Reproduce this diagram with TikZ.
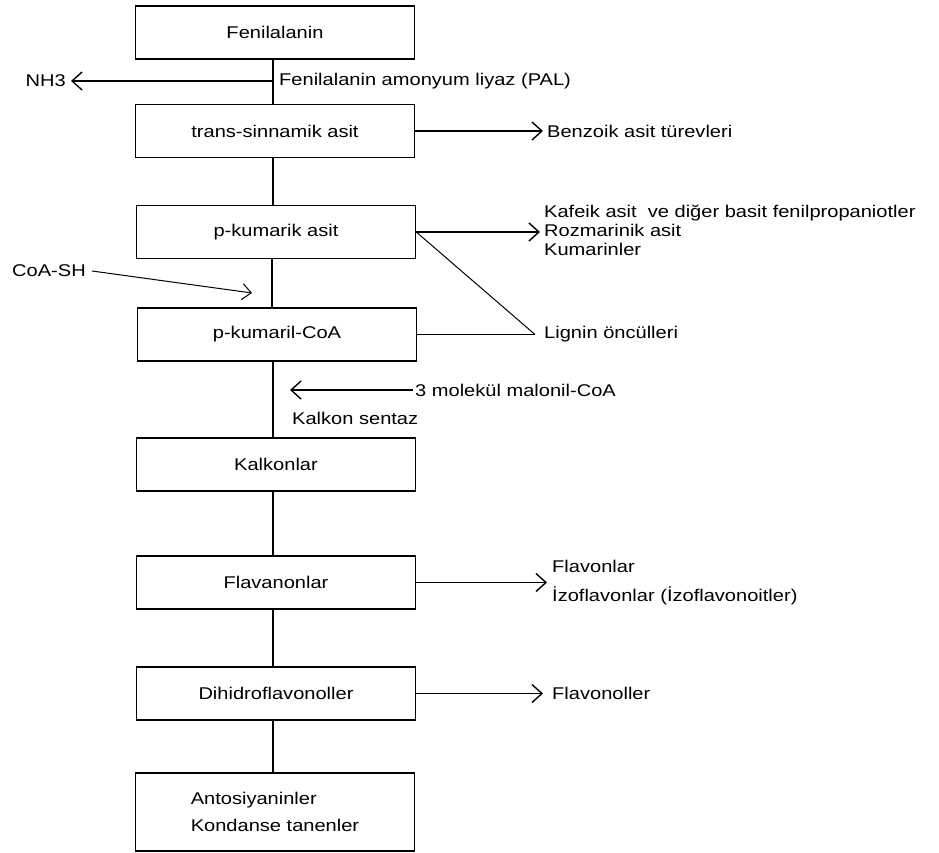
\documentclass[tikz,border=0pt]{standalone}
\usepackage{fontspec}
\setmainfont{Liberation Sans}[FakeStretch=1.18]
\usetikzlibrary{arrows.meta}
\begin{document}
\begin{tikzpicture}[x=1pt,y=-1pt,
  box/.style={draw, line width=1.5pt, minimum width=279pt, minimum height=53pt, inner sep=0pt, font=\fontsize{17pt}{19pt}\selectfont},
  lbl/.style={inner ysep=2pt, inner xsep=2pt, anchor=west, font=\fontsize{17pt}{19pt}\selectfont},
  conn/.style={line width=1.4pt},
  thinln/.style={line width=1pt},
  arr/.style={line width=1.4pt, -{Straight Barb[length=10pt,width=18pt]}}]
\fill[white] (0,0) rectangle (939,853);
\useasboundingbox (0,0) rectangle (939,853);

% main column
\node[box] (f1) at (275,32.5) {Fenilalanin};
\node[box] (f2) at (275,131) {trans-sinnamik asit};
\node[box] (f3) at (276,232) {p-kumarik asit};
\node[box] (f4) at (277,334.5) {p-kumaril-CoA};
\node[box] (f5) at (276,464.5) {Kalkonlar};
\node[box] (f6) at (276,582.5) {Flavanonlar};
\node[box] (f7) at (276,693.5) {Dihidroflavonoller};
\node[box, minimum height=78pt, align=left, font=\fontsize{17pt}{27pt}\selectfont] (f8) at (275,812) {Antosiyaninler\\Kondanse tanenler};

\draw[conn] ([xshift=-2pt]f1.south) -- ([xshift=-2pt]f2.north);
\draw[conn] ([xshift=-2pt]f2.south) -- ([xshift=-3pt]f3.north);
\draw[conn] ([xshift=-4pt]f3.south) -- ([xshift=-5pt]f4.north);
\draw[conn] ([xshift=-4pt]f4.south) -- ([xshift=-3pt]f5.north);
\draw[conn] ([xshift=-3pt]f5.south) -- ([xshift=-3pt]f6.north);
\draw[conn] ([xshift=-3pt]f6.south) -- ([xshift=-3pt]f7.north);
\draw[conn] ([xshift=-3pt]f7.south) -- ([xshift=-2pt]f8.north);

% PAL step
\coordinate (p1) at (273,81);
\node[lbl, anchor=east, inner xsep=5pt] (nh3) at (71,81) {NH3};
\node[lbl] (pal) at (277,81) {Fenilalanin amonyum liyaz (PAL)};
\draw[arr] (p1) -- (nh3.east);

% side products
\node[lbl, inner xsep=4pt] (benz) at (543,131) {Benzoik asit türevleri};
\draw[arr] (f2.east) -- (benz.west);

\node[lbl, inner xsep=4pt, align=left, font=\fontsize{17pt}{19pt}\selectfont] (kaf) at (540,230) {Kafeik asit\ \ ve diğer basit fenilpropaniotler\\Rozmarinik asit\\Kumarinler};
\draw[arr] (f3.east) -- ([yshift=-2pt]kaf.west);

\node[lbl, inner xsep=9pt] (lig) at (535,334.5) {Lignin öncülleri};
\draw[thinln] (f3.east) -- (lig.west);
\draw[conn] (f4.east) -- (lig.west);

% CoA-SH
\node[lbl, anchor=east, inner xsep=6pt] (coa) at (92,271) {CoA-SH};
\coordinate (c1) at (252,293);
\draw[thinln, -{Straight Barb[length=9pt,width=16pt]}] (coa.east) -- (c1);

% malonyl-CoA
\node[lbl] (mal) at (413,390) {3 molekül malonil-CoA};
\coordinate (c2) at (290,390);
\draw[arr] (mal.west) -- (c2);
\node[lbl] (ks) at (290,418) {Kalkon sentaz};

% flavonoid branches
\node[lbl, inner xsep=5pt, align=left, font=\fontsize{17pt}{29pt}\selectfont] (flv) at (547,582.5) {Flavonlar\\İzoflavonlar (İzoflavonoitler)};
\draw[arr] (f6.east) -- (flv.west);

\node[lbl, inner xsep=9pt] (flo) at (543,693.5) {Flavonoller};
\draw[arr] (f7.east) -- (flo.west);
\end{tikzpicture}
\end{document}
